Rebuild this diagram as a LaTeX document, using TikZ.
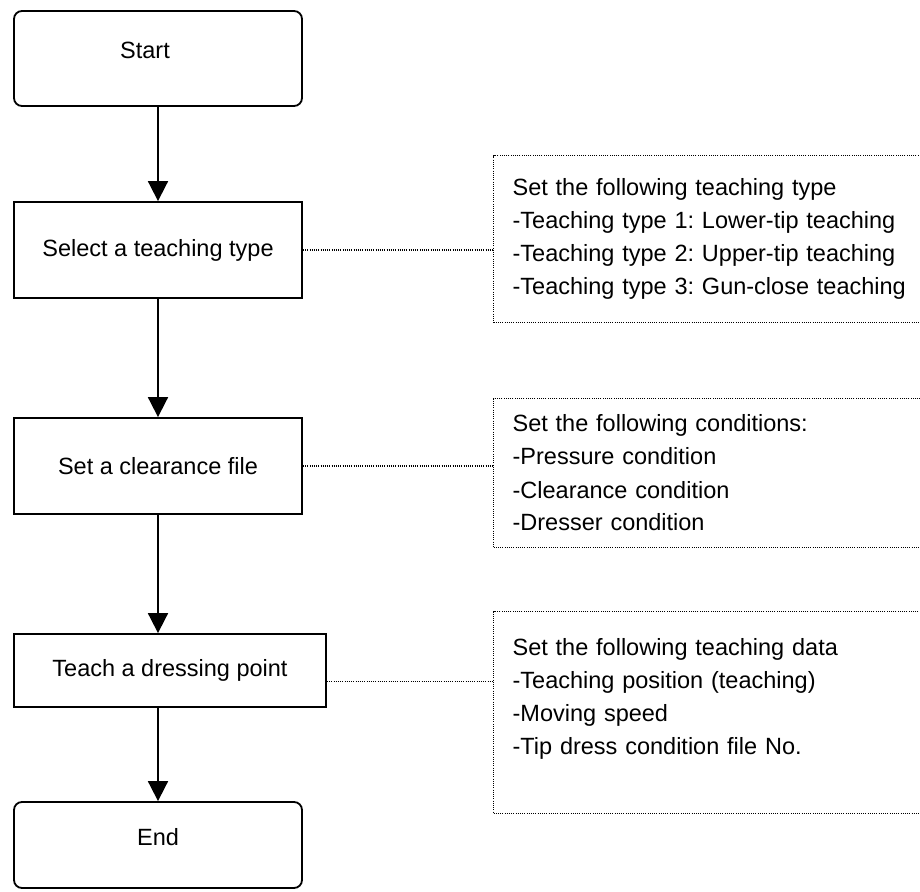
\documentclass[tikz,border=0pt]{standalone}
\usepackage{fontspec}
\setmainfont{Liberation Sans}
\usetikzlibrary{arrows.meta}
\frenchspacing

\begin{document}
\begin{tikzpicture}[
    x=0.5pt, y=-0.5pt,
    font=\fontsize{11.75}{16.5}\selectfont,
    terminal/.style={rectangle, draw, rounded corners=4pt, line width=0.9pt,
                     minimum width=144pt, minimum height=47.5pt},
    process/.style={rectangle, draw, line width=0.9pt,
                    minimum width=144pt, minimum height=48pt},
    fine dots/.style={line width=0.6pt, dash pattern=on 0.5pt off 0.6pt},
    note/.style={rectangle, draw, fine dots,
                 anchor=north west, text width=199.5pt, inner xsep=9.5pt,
                 align=left},
    flow/.style={-{Triangle[width=10pt, length=10pt]}, line width=0.9pt},
    link/.style={fine dots}
]
\clip (0,0) rectangle (920,892);

% main flow
\node[terminal, label={[xshift=-6.5pt, yshift=4.25pt]center:Start}] (start) at (158,58.5) {};
\node[process] (select) at (158,250) {Select a teaching type};
\node[process] (clear) at (158,466) {Set a clearance file};
\node[process, minimum width=156pt, minimum height=36.5pt] (teach) at (170,670.5) {Teach a dressing point};
\node[terminal, minimum height=43pt, label={[yshift=4pt]center:End}] (stop) at (158,845) {};

% side notes
\node[note, minimum height=83.5pt] (note1) at (493,155)
    {Set the following teaching type\\
     -Teaching type 1: Lower-tip teaching\\
     -Teaching type 2: Upper-tip teaching\\
     -Teaching type 3: Gun-close teaching};
\node[note, minimum height=74.5pt] (note2) at (493,398)
    {Set the following conditions:\\
     -Pressure condition\\
     -Clearance condition\\
     -Dresser condition};
\node[note, minimum height=101pt] (note3) at (493,611)
    {Set the following teaching data\\
     -Teaching position (teaching)\\
     -Moving speed\\
     -Tip dress condition file No.\\ ~};

\draw[flow] (start) -- (select);
\draw[flow] (select) -- (clear);
\draw[flow] (clear.south) -- (clear.south |- teach.north);
\draw[flow] (stop.north |- teach.south) -- (stop.north);

\draw[link] (select.east) -- (select.east -| note1.west);
\draw[link] (clear.east) -- (clear.east -| note2.west);
\draw[link] ([yshift=-5.5pt]teach.east) -- ([yshift=-5.5pt]teach.east -| note3.west);
\end{tikzpicture}
\end{document}
